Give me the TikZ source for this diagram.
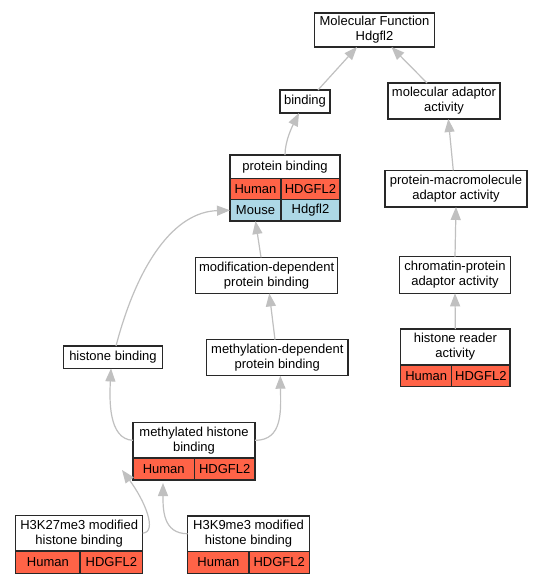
\documentclass[tikz,border=0pt]{standalone}
\usepackage{fontspec}
\setmainfont{Liberation Sans}
\usetikzlibrary{arrows.meta,calc}
\definecolor{human}{RGB}{255,99,71}
\definecolor{mouse}{RGB}{173,216,230}
\definecolor{edgec}{RGB}{192,192,192}
\definecolor{boxc}{RGB}{40,40,40}
\begin{document}
\begin{tikzpicture}[x=1pt,y=-1pt,
  box/.style={draw=boxc, line width=1.3pt, fill=white, inner sep=0pt, outer sep=0pt,
    align=center, font=\fontsize{13}{15}\selectfont, text=black},
  hcell/.style={box, fill=human},
  mcell/.style={box, fill=mouse},
  edge/.style={draw=edgec, line width=1.2pt, -{Triangle[length=13pt,width=10pt]}}]
\fill[white] (0,0) rectangle (543,584);
\useasboundingbox (0,0) rectangle (543,584);

% plain nodes
\node[box, minimum width=120pt, minimum height=34pt] (mf) at (374.5,30) {Molecular Function\\Hdgfl2};
\node[box, minimum width=50pt, minimum height=23pt] (bind) at (305,101.5) {binding};
\node[box, minimum width=112pt, minimum height=36pt] (adapt) at (444,101) {molecular adaptor\\activity};
\node[box, minimum width=142pt, minimum height=36.5pt] (pm) at (456,188.7) {protein-macromolecule\\adaptor activity};
\node[box, minimum width=142pt, minimum height=36pt] (modd) at (266.6,275.4) {modification-dependent\\protein binding};
\node[box, minimum width=111.4pt, minimum height=36.6pt] (chrom) at (455,275) {chromatin-protein\\adaptor activity};
\node[box, minimum width=99pt, minimum height=22.5pt] (hb) at (113,357.2) {histone binding};
\node[box, minimum width=141.3pt, minimum height=36pt] (methd) at (277.3,357.7) {methylation-dependent\\protein binding};

% protein binding record
\node[box, minimum width=110pt, minimum height=23.3pt] (pb) at (285,166.7) {protein binding};
\node[hcell, anchor=north west, minimum width=51pt, minimum height=21.2pt] (pbh) at (pb.south west) {Human};
\node[hcell, anchor=north east, minimum width=59pt, minimum height=21.2pt] (pbg) at (pb.south east) {HDGFL2};
\node[mcell, anchor=north west, minimum width=51pt, minimum height=21.5pt] (pbm) at (pbh.south west) {Mouse};
\node[mcell, anchor=north east, minimum width=59pt, minimum height=21.5pt] (pbmg) at (pbg.south east) {Hdgfl2};

% histone reader activity record
\node[box, minimum width=109.3pt, minimum height=36pt] (hrt) at (455.35,347) {histone reader\\activity};
\node[hcell, anchor=north west, minimum width=51pt, minimum height=21.7pt] (hrh) at (hrt.south west) {Human};
\node[hcell, anchor=north east, minimum width=58.3pt, minimum height=21.7pt] (hrg) at (hrt.south east) {HDGFL2};

% methylated histone binding record
\node[box, minimum width=122pt, minimum height=35.3pt] (mhbt) at (194,440.35) {methylated histone\\binding};
\node[hcell, anchor=north west, minimum width=61.5pt, minimum height=22pt] (mhbh) at (mhbt.south west) {Human};
\node[hcell, anchor=north east, minimum width=60.5pt, minimum height=22pt] (mhbg) at (mhbt.south east) {HDGFL2};

% H3K27me3 record
\node[box, minimum width=127pt, minimum height=35.7pt] (k27t) at (79.2,533.15) {H3K27me3 modified\\histone binding};
\node[hcell, anchor=north west, minimum width=64.3pt, minimum height=22.3pt] (k27h) at (k27t.south west) {Human};
\node[hcell, anchor=north east, minimum width=62.7pt, minimum height=22.3pt] (k27g) at (k27t.south east) {HDGFL2};

% H3K9me3 record
\node[box, minimum width=121.6pt, minimum height=35.5pt] (k9t) at (248.5,533.75) {H3K9me3 modified\\histone binding};
\node[hcell, anchor=north west, minimum width=61.3pt, minimum height=21.8pt] (k9h) at (k9t.south west) {Human};
\node[hcell, anchor=north east, minimum width=60.3pt, minimum height=21.8pt] (k9g) at (k9t.south east) {HDGFL2};

% edges
\draw[edge] ($(bind.north)+(13,0)$) -- ($(mf.south)+(-17.5,0)$);
\draw[edge] ($(adapt.north)+(-17,0)$) -- ($(mf.south)+(17,0)$);
\draw[edge] (pb.north) .. controls +(0,-15) and +(-6,12) .. ($(bind.south)+(-6,0)$);
\draw[edge] ($(pm.north)+(-2.7,0)$) -- ($(adapt.south)+(4.3,0)$);
\draw[edge] ($(modd.north)+(-5.6,0)$) -- (pbm.south);
\draw[edge] ($(hb.north)+(3,0)$) .. controls +(22,-84) and +(-55,1.5) .. (pbm.west);
\draw[edge] (chrom.north) -- (pm.south);
\draw[edge] ($(methd.north)+(-2.3,0)$) -- ($(modd.south)+(2.7,0)$);
\draw[edge] (hrt.north) -- (chrom.south);
\draw[edge] (mhbt.west) .. controls +(-25,-1) and +(-1.5,30) .. ($(hb.south)+(-2,0)$);
\draw[edge] (mhbt.east) .. controls +(28,0) and +(0.5,35) .. ($(methd.south)+(3,0)$);
\draw[edge] (k27t.east) .. controls +(15,-1) and +(23,31) .. ($(mhbh.south west)+(-11,-10)$);
\draw[edge] (k9t.west) .. controls +(-25,0) and +(0,26) .. ($(mhbh.south)+(-0.75,3)$);
\end{tikzpicture}
\end{document}
